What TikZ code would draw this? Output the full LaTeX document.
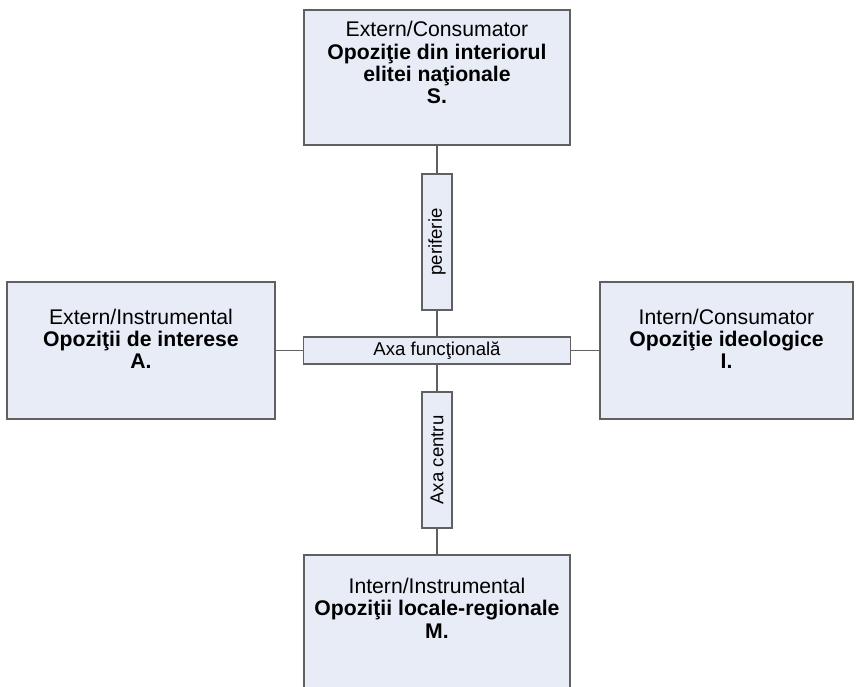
\documentclass[tikz,border=0pt]{standalone}
\usepackage{fontspec}
\setmainfont{Liberation Sans}
\usepackage{tikz}
\usetikzlibrary{positioning}
\definecolor{boxfill}{RGB}{231,236,247}
\definecolor{edgegray}{RGB}{96,96,96}
\def\quadfont{\fontsize{21.2}{22.3}\selectfont}
\def\axisfont{\fontsize{18.6}{20}\selectfont}
\tikzstyle{quad}      = [draw=edgegray, line width=1.3pt, fill=boxfill, inner sep=0pt]
\tikzstyle{quadtext}  = [align=center, inner sep=0pt, font=\quadfont]
\tikzstyle{axisbox}   = [draw=edgegray, line width=1.3pt, fill=boxfill, inner sep=0pt, font=\axisfont]
\tikzstyle{axisline}  = [edgegray, line width=1.3pt]

\begin{document}
\begin{tikzpicture}[x=1pt, y=-1pt]
		\clip (0,0) rectangle (856,687);
		\fill[white] (0,0) rectangle (856,687);
		\node[quad, minimum width=266pt, minimum height=135pt] (sBox) at (437,77.5) {};
		\node[quad, minimum width=268pt, minimum height=137pt] (aBox) at (141,350.5) {};
		\node[quad, minimum width=253pt, minimum height=137pt] (iBox) at (726.5,350.5) {};
		\node[quad, minimum width=266pt, minimum height=135pt] (mBox) at (437,622.5) {};
		\node[quadtext, below=11.8pt of sBox.north] (sText) {Extern/Consumator\\ \textbf{Opoziţie din interiorul}\\ \textbf{elitei naţionale}\\ \textbf{S.}};
		\node[quadtext, below=27.2pt of aBox.north] (aText) {Extern/Instrumental\\ \textbf{Opoziţii de interese}\\ \textbf{A.}};
		\node[quadtext, below=27.2pt of iBox.north] (iText) {Intern/Consumator\\ \textbf{Opoziţie ideologice}\\ \textbf{I.}};
		\node[quadtext, below=23.5pt of mBox.north] (mText) {Intern/Instrumental\\ \textbf{Opoziţii locale-regionale}\\ \textbf{M.}};
		\node[axisbox, minimum width=267pt, minimum height=27pt] (func) at (437,350.5) {Axa funcţională};
		\node[axisbox, rotate=90, minimum width=136pt, minimum height=30pt] (peri) at (437,242) {periferie};
		\node[axisbox, rotate=90, minimum width=136pt, minimum height=30pt] (centru) at (437,460) {Axa centru};
		\draw[axisline] (sBox) -- (peri) (peri) -- (func) (func) -- (centru) (centru) -- (mBox);
		\draw[axisline] (aBox) -- (func) (func) -- (iBox);
	\end{tikzpicture}
\end{document}
